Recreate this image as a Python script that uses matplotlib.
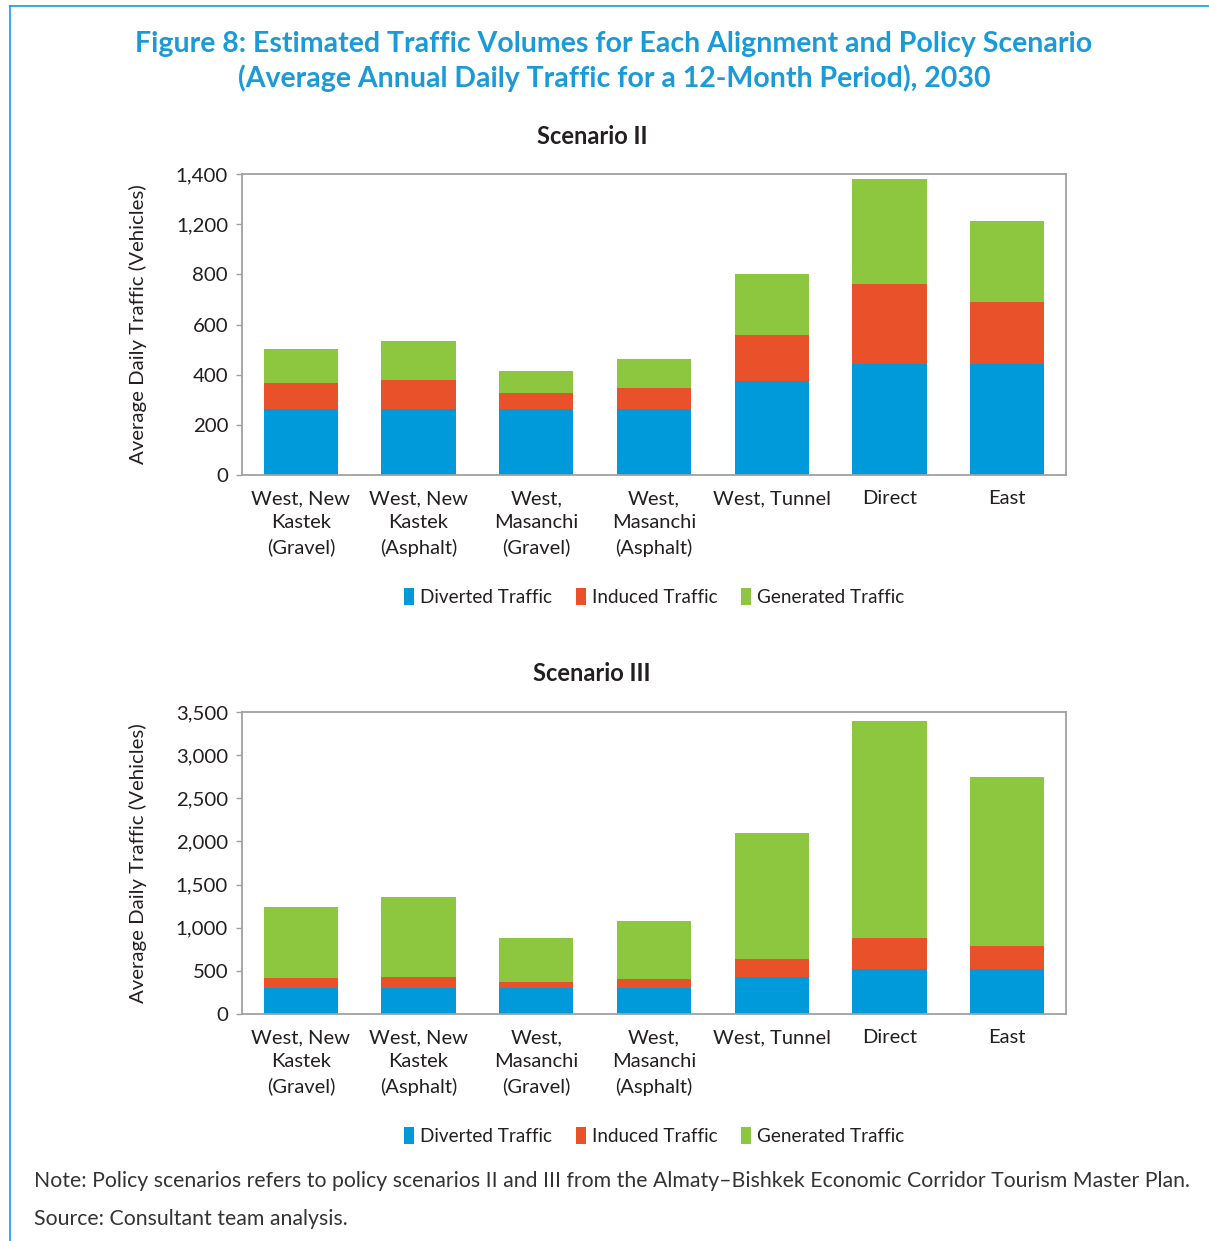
import matplotlib
matplotlib.use("Agg")
import matplotlib.pyplot as plt
from matplotlib.patches import Patch
from matplotlib.lines import Line2D
import numpy as np

plt.rcParams["font.family"] = ["Lato", "DejaVu Sans"]

# Alignments (x-axis categories)
alignments = [
    "West, New\nKastek\n(Gravel)",
    "West, New\nKastek\n(Asphalt)",
    "West,\nMasanchi\n(Gravel)",
    "West,\nMasanchi\n(Asphalt)",
    "West, Tunnel",
    "Direct",
    "East",
]

series_names = ["Diverted Traffic", "Induced Traffic", "Generated Traffic"]

# Scenario II (vehicles per day)
s2_diverted = [307, 307, 307, 307, 437, 518, 518]
s2_induced = [121, 135, 74, 98, 214, 370, 287]
s2_generated = [158, 181, 103, 135, 284, 489, 376]

# Scenario III (vehicles per day)
s3_diverted = [307, 307, 307, 307, 430, 516, 516]
s3_induced = [111, 127, 65, 93, 209, 367, 274]
s3_generated = [818, 921, 507, 680, 1463, 2512, 1955]

# Y-axis tick labels as printed on each panel
s2_ytick_labels = ["0", "200", "400", "600", "800", "1,200", "1,400"]
s2_ymax = 1400
s3_ytick_labels = ["0", "500", "1,000", "1,500", "2,000", "2,500", "3,000", "3,500"]
s3_ymax = 3500

colors = ["#009ADA", "#E8512A", "#8DC63F"]
title_blue = "#1A9BD7"
text_dark = "#231F20"
spine_gray = "#A0A0A0"

W, H = 1209, 1241
fig = plt.figure(figsize=(W / 100, H / 100), dpi=100)

# Frame lines along the top and left edges
fig.add_artist(Line2D([10 / W, 1.0], [1 - 6 / H, 1 - 6 / H], color=title_blue, lw=1.2))
fig.add_artist(Line2D([10 / W, 10 / W], [0.0, 1 - 6 / H], color=title_blue, lw=1.2))

fig.text(614 / W, 1 - 44 / H,
         "Figure 8: Estimated Traffic Volumes for Each Alignment and Policy Scenario",
         ha="center", va="center", fontsize=20.5, fontweight="bold", color=title_blue)
fig.text(614 / W, 1 - 78 / H,
         "(Average Annual Daily Traffic for a 12-Month Period), 2030",
         ha="center", va="center", fontsize=20.5, fontweight="bold", color=title_blue)


def draw_panel(rect, title, title_y, diverted, induced, generated, ymax, tick_labels):
    ax = fig.add_axes(rect)
    x = np.arange(len(alignments))
    width = 0.63
    d = np.array(diverted)
    i = np.array(induced)
    g = np.array(generated)
    ax.bar(x, d, width, color=colors[0], label=series_names[0])
    ax.bar(x, i, width, bottom=d, color=colors[1], label=series_names[1])
    ax.bar(x, g, width, bottom=d + i, color=colors[2], label=series_names[2])
    ax.set_xlim(-0.5, len(alignments) - 0.5)
    ax.set_ylim(0, ymax)
    ax.set_yticks(np.linspace(0, ymax, len(tick_labels)))
    ax.set_yticklabels(tick_labels)
    ax.set_xticks(x)
    ax.set_xticklabels(alignments, linespacing=1.5)
    ax.tick_params(axis="x", length=0, pad=11, labelsize=14.5, labelcolor=text_dark)
    ax.tick_params(axis="y", length=4, width=1, color=spine_gray, pad=6,
                   labelsize=14.7, labelcolor=text_dark)
    for sp in ax.spines.values():
        sp.set_color(spine_gray)
        sp.set_linewidth(1.3)
    ax.set_ylabel("Average Daily Traffic (Vehicles)", fontsize=14.7, color=text_dark)
    ax.yaxis.set_label_coords(-95 / 824, 0.5)
    fig.text(592 / W, 1 - title_y / H, title, ha="center", va="center",
             fontsize=17, fontweight="bold", color=text_dark)
    handles = [Patch(facecolor=c, edgecolor="none") for c in colors]
    ax.legend(handles, series_names, loc="center", bbox_to_anchor=(0.5, -0.405),
              ncol=3, frameon=False, fontsize=13.6, handlelength=0.55,
              handleheight=1.0, handletextpad=0.3, columnspacing=1.25,
              labelcolor=text_dark)
    return ax


draw_panel([242 / W, 1 - 475 / H, 824 / W, 301 / H], "Scenario II", 136,
           s2_diverted, s2_induced, s2_generated, s2_ymax, s2_ytick_labels)
draw_panel([242 / W, 1 - 1014 / H, 824 / W, 302 / H], "Scenario III", 674,
           s3_diverted, s3_induced, s3_generated, s3_ymax, s3_ytick_labels)

fig.text(34 / W, 1 - 1181 / H,
         "Note: Policy scenarios refers to policy scenarios II and III from the "
         "Almaty\u2013Bishkek Economic Corridor Tourism Master Plan.",
         ha="left", va="center", fontsize=15.3, color="#333333")
fig.text(34 / W, 1 - 1219 / H, "Source: Consultant team analysis.",
         ha="left", va="center", fontsize=15.3, color="#333333")

fig.savefig("out.png", dpi=100)
